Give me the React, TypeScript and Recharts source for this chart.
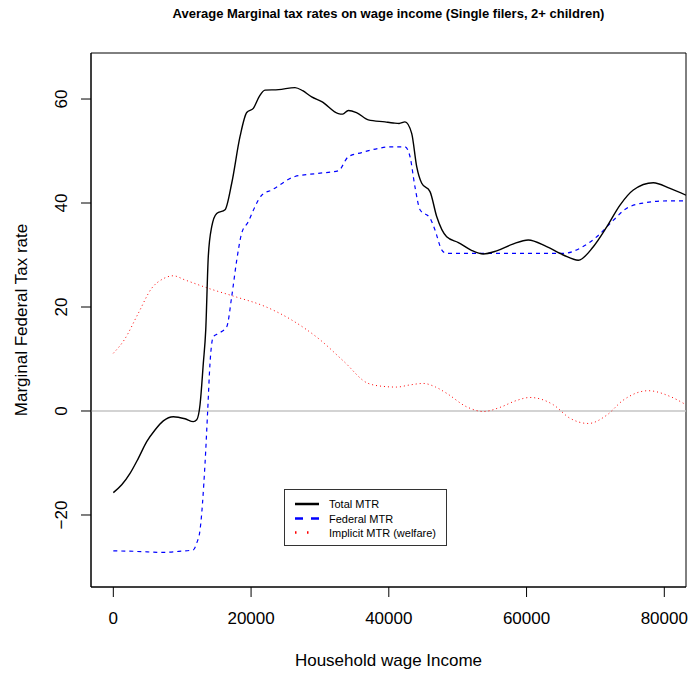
import React from "react";
import { LineChart, Line, XAxis, YAxis, ReferenceLine, ReferenceArea } from "recharts";

// household wage income (x) and marginal rates (y)
const totalIncome = [
  0, 1220, 2425, 3630, 4850, 6050, 7260, 8710, 10410, 11620, 12110, 12590, 13070, 13420, 13790, 14280, 15010,
  16220, 17190, 18400, 19370, 20330, 21200, 22030, 24000, 26380, 27500, 28800, 30260, 32670, 33300, 34120,
  35300, 37020, 39450, 40650, 41500, 42350, 43320, 44050, 44780, 45980, 46950, 48400, 50100, 52000, 53720,
  55660, 58000, 60250, 62920, 65340, 67520, 69690, 71640, 73570, 75500, 78400, 80830, 83150,
];
const totalMtr = [
  -15.7, -14.2, -12.0, -9.1, -5.9, -3.65, -1.9, -1.1, -1.5, -2.05, -1.7, 1.2, 9.2, 15.6, 29.7, 35.4, 38.0,
  38.7, 43.8, 52.8, 57.4, 58.2, 60.5, 61.7, 61.8, 62.2, 61.6, 60.4, 59.5, 57.2, 57.1, 57.8,
  57.4, 56.0, 55.6, 55.4, 55.3, 55.6, 53.4, 47, 43.8, 42.2, 37.4, 33.5, 32.4, 30.9, 30.2,
  30.8, 32.1, 32.9, 31.6, 30, 29.0, 31.6, 35.4, 39.6, 42.5, 43.9, 42.8, 41.5,
];

const federalIncome = [
  0, 3500, 7030, 9500, 11620, 12110, 12590, 13320, 13700, 14040, 14520, 15250, 16470, 17190, 17920, 18640,
  19600, 20570, 21540, 23000, 26380, 29770, 32670, 34120, 36060, 38480, 40000, 42350, 43080, 43800, 44530,
  45980, 46710, 47680, 48400, 55000, 65340, 67760, 70190, 72610, 74550, 77450, 80350, 83150,
];
const federalMtr = [
  -26.9, -27.0, -27.2, -27.0, -26.7, -25.4, -22.9, -10, 0, 9.2, 14.3, 14.9, 16.2, 22, 29, 34.2,
  36.4, 39.3, 41.5, 42.5, 45.1, 45.7, 46.2, 48.9, 49.7, 50.5, 50.8, 50.8, 48.9, 43.1, 38.7,
  37.1, 34.8, 31, 30.3, 30.3, 30.3, 31.3, 33.5, 36.7, 39, 40.1, 40.4, 40.4,
];

const implicitIncome = [
  0, 1600, 3630, 5570, 7200, 8710, 10410, 13790, 17670, 22030, 25900, 30010, 33500, 37020, 39450, 41150,
  43000, 45010, 46800, 48400, 51310, 53720, 56150, 58500, 60500, 63880, 66310, 68970, 71640, 74050, 77680,
  80830, 83150,
];
const implicitMtr = [
  11.1, 13.7, 18.8, 23.6, 25.4, 26.0, 25.2, 23.6, 22, 20.1, 17.5, 13.7, 9.5, 5.3, 4.7, 4.6,
  5.0, 5.3, 4.6, 3.4, 0.8, -0.1, 0.7, 2.0, 2.6, 1.2, -1.4, -2.4, -0.8, 2.1, 3.9,
  2.8, 1.2,
];

const xTicks = [0, 20000, 40000, 60000, 80000];
const yTicks = [-20, 0, 20, 40, 60];

const toRows = (xs: number[], ys: number[]) => xs.map((x, i) => ({ income: x, mtr: ys[i] }));

const totalData = toRows(totalIncome, totalMtr);
const federalData = toRows(federalIncome, federalMtr);
const implicitData = toRows(implicitIncome, implicitMtr);

const xMin = -3240;
const xMax = 83150;
const yMin = -33.85;
const yMax = 68.85;

const font = "'Liberation Sans', Arial, Helvetica, sans-serif";

const YTick = (props: any) => {
  const { y, payload } = props;
  return (
    <text
      x={67}
      y={y}
      transform={`rotate(-90 67 ${y})`}
      textAnchor="middle"
      fontSize={17}
      fontFamily={font}
      fill="#000"
    >
      {payload.value < 0 ? "\u2212" + Math.abs(payload.value) : payload.value}
    </text>
  );
};

// legend drawn as a plain overlay so it doesn't steal space from the plot
const LegendBox = () => (
  <svg
    width={164}
    height={58}
    style={{ position: "absolute", left: 284, top: 489, display: "block" }}
  >
    <rect x={0.5} y={0.5} width={162} height={56} fill="#fff" stroke="#333" strokeWidth={1} />
    <line x1={11} x2={35} y1={15} y2={15} stroke="#000" strokeWidth={2.5} />
    <line x1={11} x2={35} y1={29.5} y2={29.5} stroke="#0000ff" strokeWidth={2.5} strokeDasharray="8 8" />
    <line x1={11} x2={35} y1={43.5} y2={43.5} stroke="#ff0000" strokeWidth={2.5} strokeDasharray="1.5 10.5" />
    <g fontSize={11} fontFamily={font} fill="#000">
      <text x={45} y={19}>Total MTR</text>
      <text x={45} y={33.5}>Federal MTR</text>
      <text x={45} y={47.5}>Implicit MTR (welfare)</text>
    </g>
  </svg>
);

export default function App() {
  return (
    <div style={{ position: "absolute", left: 0, top: 0, width: 689, height: 673, background: "#fff" }}>
      <div
        style={{
          position: "absolute",
          left: 0,
          top: 7,
          width: 777,
          textAlign: "center",
          fontFamily: font,
          fontWeight: "bold",
          fontSize: 13,
          lineHeight: "13px",
        }}
      >
        Average Marginal tax rates on wage income (Single filers, 2+ children)
      </div>
      <LineChart width={689} height={673} margin={{ top: 53, right: 3, bottom: 0, left: 0 }}>
        <XAxis
          dataKey="income"
          type="number"
          domain={[xMin, xMax]}
          ticks={xTicks}
          allowDataOverflow
          height={86}
          tickSize={10}
          tickMargin={15}
          stroke="#000"
          tick={{ fill: "#000", fontSize: 17, fontFamily: font }}
          label={{
            content: () => (
              <text x={388.5} y={666} textAnchor="middle" fontSize={17} fontFamily={font} fill="#000">
                Household wage Income
              </text>
            ),
          }}
        />
        <YAxis
          dataKey="mtr"
          type="number"
          domain={[yMin, yMax]}
          ticks={yTicks}
          allowDataOverflow
          width={91}
          tickSize={10}
          stroke="#000"
          tick={<YTick />}
          label={{
            content: () => (
              <text
                x={26.5}
                y={320}
                transform="rotate(-90 26.5 320)"
                textAnchor="middle"
                fontSize={17}
                fontFamily={font}
                fill="#000"
              >
                Marginal Federal Tax rate
              </text>
            ),
          }}
        />
        <ReferenceArea x1={xMin} x2={xMax} y1={yMin} y2={yMax} fill="none" stroke="#000" strokeWidth={1} />
        <ReferenceLine y={0} stroke="#c4c4c4" strokeWidth={1.5} />
        <Line
          data={implicitData}
          dataKey="mtr"
          type="monotone"
          stroke="#ff0000"
          strokeWidth={1}
          strokeDasharray="1 3"
          dot={false}
          isAnimationActive={false}
        />
        <Line
          data={federalData}
          dataKey="mtr"
          type="monotone"
          stroke="#0000ff"
          strokeWidth={1.2}
          strokeDasharray="4 4"
          dot={false}
          isAnimationActive={false}
        />
        <Line
          data={totalData}
          dataKey="mtr"
          type="monotone"
          stroke="#000"
          strokeWidth={1.4}
          dot={false}
          isAnimationActive={false}
        />
      </LineChart>
      <LegendBox />
    </div>
  );
}
